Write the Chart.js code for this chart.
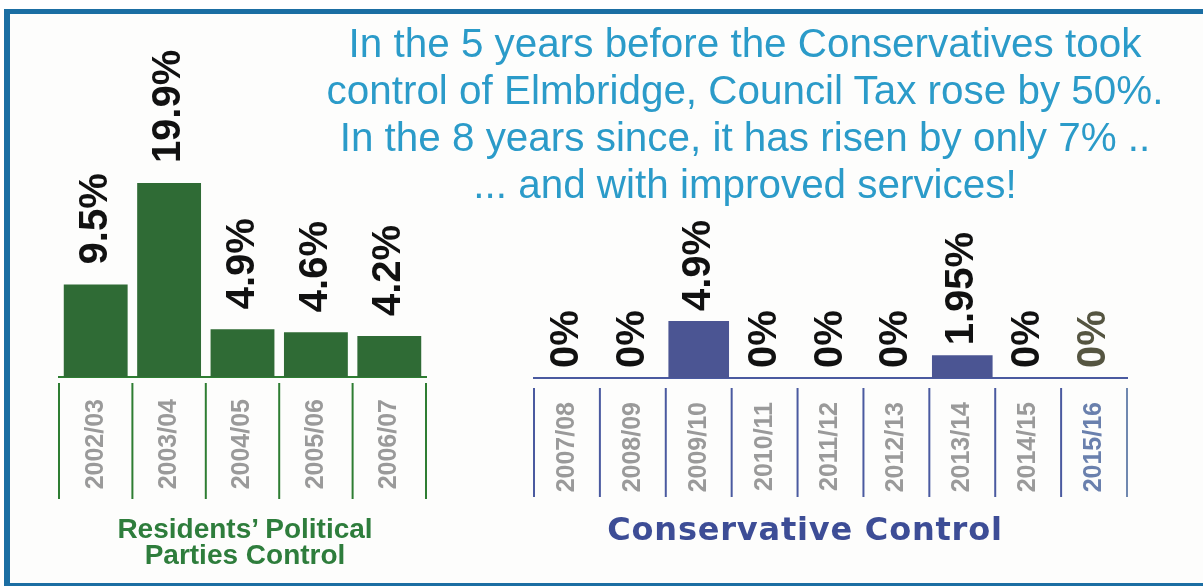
<!DOCTYPE html>
<html>
<head>
<meta charset="utf-8">
<script src="https://cdn.jsdelivr.net/npm/chart.js@4"></script>
<style>
  html, body { margin: 0; padding: 0; background: #fff; }
  body { width: 1203px; height: 588px; position: relative; overflow: hidden; font-family: "Liberation Sans", Arial, sans-serif; }
  #frame { position: absolute; left: 4px; top: 9px; width: 1193px; height: 569px;
           border-style: solid; border-color: #1b6ea3; border-width: 5px 3px 3px 6px; background: #fdfdfc; }
  .box { position: absolute; top: 0; height: 588px; }
  #leftBox { left: 0; width: 450px; }
  #rightBox { left: 450px; width: 753px; }
  #title { position: absolute; left: 300px; top: 20px; width: 890px; color: #2b9bc9; font-size: 40px; line-height: 47px; text-align: center; }
  #title div { white-space: nowrap; transform: scaleX(1.01); }
  .cap { position: absolute; font-weight: bold; text-align: center; white-space: nowrap; }
  #capLeft { left: 60px; width: 370px; top: 516px; color: #2e7d3c; font-size: 28px; line-height: 26px; }
  #capRight { left: 560px; width: 490px; top: 510px; color: #3d4d96; font-size: 32px; font-family: "DejaVu Sans", sans-serif; letter-spacing: 0.8px; }
</style>
</head>
<body>
<div id="frame"></div>
<div class="box" id="leftBox"><canvas id="residents"></canvas></div>
<div class="box" id="rightBox"><canvas id="conservative"></canvas></div>
<div id="title">
  <div>In the 5 years before the Conservatives took</div>
  <div>control of Elmbridge, Council Tax rose by 50%.</div>
  <div>In the 8 years since, it has risen by only 7% ..</div>
  <div>... and with improved services!</div>
</div>
<div class="cap" id="capLeft">Residents’ Political<br>Parties Control</div>
<div class="cap" id="capRight">Conservative Control</div>
<script>
// data
const residentYears = ['2002/03', '2003/04', '2004/05', '2005/06', '2006/07'];
const residentRises = [9.5, 19.9, 4.9, 4.6, 4.2];
const conservativeYears = ['2007/08', '2008/09', '2009/10', '2010/11', '2011/12', '2012/13', '2013/14', '2014/15', '2015/16'];
const conservativeRises = [0, 0, 4.9, 0, 0, 0, 1.95, 0, 0];

const labelFont = 'bold 40px "Liberation Sans", Arial, sans-serif';

// rotated % labels above each bar
const valueLabels = {
  id: 'valueLabels',
  afterDatasetsDraw(chart, args, opts) {
    const ctx = chart.ctx;
    const vals = chart.data.datasets[0].data;
    ctx.save();
    ctx.font = labelFont;
    ctx.textAlign = 'left';
    ctx.textBaseline = 'middle';
    chart.getDatasetMeta(0).data.forEach((bar, i) => {
      ctx.save();
      ctx.translate(bar.x, bar.y - opts.gap);
      ctx.rotate(-Math.PI / 2);
      ctx.fillStyle = (opts.colors && opts.colors[i]) || '#111';
      ctx.fillText(vals[i] + '%', 0, 0);
      ctx.restore();
    });
    ctx.restore();
  }
};

// vertical lines between the category labels
const separators = {
  id: 'separators',
  afterDraw(chart, args, opts) {
    const x = chart.scales.x;
    const ctx = chart.ctx;
    const n = chart.data.labels.length;
    const half = (x.getPixelForValue(1) - x.getPixelForValue(0)) / 2;
    ctx.save();
    ctx.lineWidth = 2;
    for (let i = 0; i <= n; i++) {
      const px = x.getPixelForValue(i) - half;
      ctx.strokeStyle = (opts.colors && opts.colors[i]) || opts.color;
      ctx.beginPath();
      ctx.moveTo(px, x.top + opts.from);
      ctx.lineTo(px, x.top + opts.to);
      ctx.stroke();
    }
    ctx.restore();
  }
};

function makeChart(id, labels, values, o) {
  return new Chart(document.getElementById(id), {
    type: 'bar',
    data: {
      labels: labels,
      datasets: [{
        data: values,
        backgroundColor: o.barColor,
        categoryPercentage: o.catPct,
        barPercentage: 1
      }]
    },
    options: {
      responsive: true,
      maintainAspectRatio: false,
      animation: false,
      layout: { padding: o.padding },
      plugins: {
        legend: { display: false },
        tooltip: { enabled: false },
        valueLabels: { gap: o.gap, colors: o.valueColors },
        separators: { color: o.lineColor, colors: o.sepColors, from: o.sepFrom, to: o.sepTo }
      },
      scales: {
        y: { display: false, min: 0, max: o.max },
        x: {
          afterFit: s => { s.height = o.axisHeight; },
          grid: { display: false, drawTicks: false },
          border: { display: true, color: o.lineColor, width: 2 },
          ticks: {
            minRotation: 90,
            maxRotation: 90,
            padding: o.tickPad,
            autoSkip: false,
            font: { family: '"Liberation Sans", Arial, sans-serif', size: 25, weight: 'bold' },
            color: c => (o.tickColors && o.tickColors[c.index]) || '#9a9a9a'
          }
        }
      }
    },
    plugins: [valueLabels, separators]
  });
}

makeChart('residents', residentYears, residentRises, {
  barColor: '#2f6b35',
  catPct: 0.87,
  padding: { left: 59, right: 24, top: 150, bottom: 1 },
  max: 23.3,
  axisHeight: 210,
  tickPad: 22,
  gap: 20,
  lineColor: '#2e7d32',
  sepFrom: 6,
  sepTo: 122
});

makeChart('conservative', conservativeYears, conservativeRises, {
  barColor: '#4b5593',
  catPct: 0.92,
  padding: { left: 84, right: 76, top: 150, bottom: 1 },
  max: 19.6,
  axisHeight: 209,
  tickPad: 24,
  gap: 10,
  valueColors: ['#111', '#111', '#111', '#111', '#111', '#111', '#111', '#111', '#555541'],
  tickColors: ['', '', '', '', '', '', '', '', '#6a80ad'],
  lineColor: '#4a5aa0',
  sepColors: ['', '', '', '', '', '', '', '', '', '#7088b0'],
  sepFrom: 10,
  sepTo: 119
});
</script>
</body>
</html>
